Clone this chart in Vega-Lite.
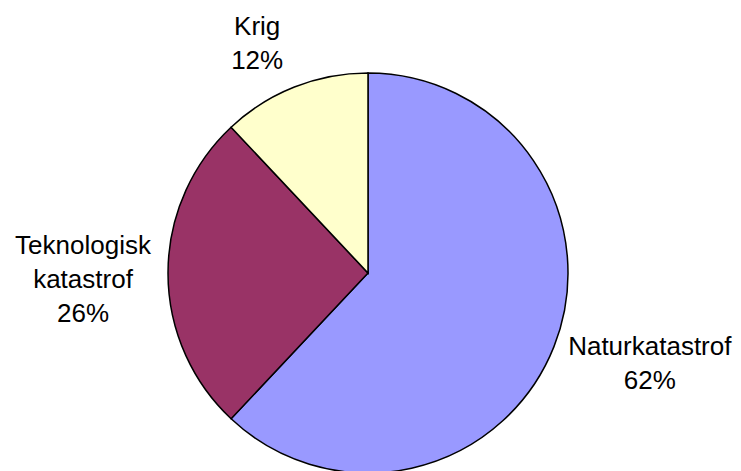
{
  "$schema": "https://vega.github.io/schema/vega-lite/v6.json",
  "width": 736,
  "height": 396,
  "autosize": "none",
  "padding": {"left": 0, "right": 5, "top": 75, "bottom": 0},
  "background": "white",
  "view": {"stroke": null},
  "data": {
    "values": [
      {"cat": "Naturkatastrof", "value": 62, "label": "Naturkatastrof\n62%"},
      {"cat": "Teknologisk katastrof", "value": 26, "label": "Teknologisk\nkatastrof\n26%"},
      {"cat": "Krig", "value": 12, "label": "Krig\n12%"}
    ]
  },
  "encoding": {
    "theta": {"field": "value", "type": "quantitative", "stack": true},
    "order": {"field": "value", "type": "quantitative", "sort": "descending"}
  },
  "layer": [
    {
      "mark": {"type": "arc", "radius": 200, "stroke": "black", "strokeWidth": 1.5},
      "encoding": {
        "color": {
          "field": "cat",
          "type": "nominal",
          "scale": {
            "domain": ["Naturkatastrof", "Teknologisk katastrof", "Krig"],
            "range": ["#9999FF", "#993366", "#FFFFCC"]
          },
          "legend": null
        }
      }
    },
    {
      "mark": {"type": "text", "radius": 244, "dx": -21, "dy": -19, "align": "center", "baseline": "middle", "lineBreak": "\n", "lineHeight": 34, "font": "Liberation Sans", "fontSize": 26, "fill": "black"},
      "encoding": {
        "detail": {"field": "cat", "type": "nominal"},
        "text": {"condition": {"test": "datum.cat === 'Krig'", "field": "label"}, "value": ""}
      }
    },
    {
      "mark": {"type": "text", "radius": 285, "dx": 0, "dy": -27, "align": "center", "baseline": "middle", "lineBreak": "\n", "lineHeight": 34, "font": "Liberation Sans", "fontSize": 26, "fill": "black"},
      "encoding": {
        "detail": {"field": "cat", "type": "nominal"},
        "text": {"condition": {"test": "datum.cat === 'Teknologisk katastrof'", "field": "label"}, "value": ""}
      }
    },
    {
      "mark": {"type": "text", "radius": 245, "dx": 54, "dy": -16, "align": "center", "baseline": "middle", "lineBreak": "\n", "lineHeight": 34, "font": "Liberation Sans", "fontSize": 26, "fill": "black"},
      "encoding": {
        "detail": {"field": "cat", "type": "nominal"},
        "text": {"condition": {"test": "datum.cat === 'Naturkatastrof'", "field": "label"}, "value": ""}
      }
    }
  ]
}
